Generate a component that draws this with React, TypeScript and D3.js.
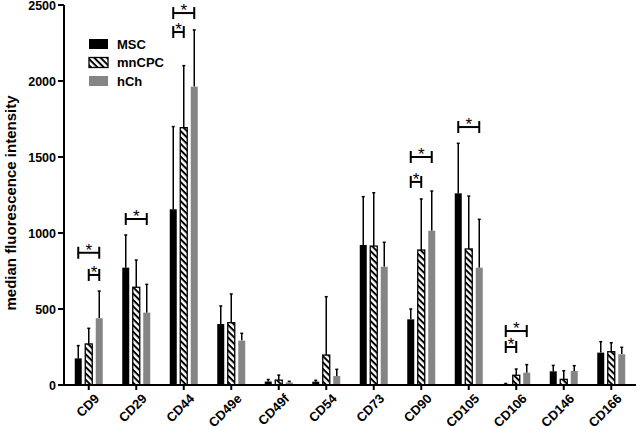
import React from "react";
import * as d3 from "d3";

const categories = ["CD9","CD29","CD44","CD49e","CD49f","CD54","CD73","CD90","CD105","CD106","CD146","CD166"];
const seriesNames = ["MSC","mnCPC","hCh"];
const mscValues = [175, 772, 1156, 401, 23, 22, 921, 432, 1261, 7, 90, 213];
const mscErrors = [259, 987, 1700, 520, 36, 31, 1239, 500, 1590, 10, 129, 285];
const mnCPCValues = [270, 643, 1693, 410, 32, 197, 914, 888, 895, 64, 37, 219];
const mnCPCErrors = [373, 822, 2101, 599, 65, 581, 1265, 1224, 1243, 105, 94, 278];
const hChValues = [439, 476, 1963, 292, 17, 59, 778, 1015, 772, 81, 92, 202];
const hChErrors = [618, 662, 2336, 340, 24, 103, 939, 1276, 1090, 134, 127, 248];
const yTicks = [0, 500, 1000, 1500, 2000, 2500];
// significance brackets: category, from series, to series, level (data units)
const sigCats = ["CD9","CD9","CD29","CD44","CD44","CD90","CD90","CD105","CD106","CD106"];
const sigFrom = ["MSC","mnCPC","MSC","MSC","MSC","MSC","MSC","MSC","MSC","MSC"];
const sigTo = ["hCh","hCh","hCh","hCh","mnCPC","hCh","mnCPC","hCh","hCh","mnCPC"];
const sigLevels = [870, 724, 1092, 2447, 2322, 1500, 1336, 1697, 355, 250];

const FONT = "'Liberation Sans', Arial, sans-serif";
const GRAY = "#858585";

export default function App() {
  const x = d3.scaleBand<string>().domain(categories).range([65, 635]).padding(0);
  const xs = d3.scaleBand<string>().domain(seriesNames).range([-15.75, 15.75]).paddingInner(1 / 3).paddingOuter(1 / 6);
  const y = d3.scaleLinear().domain([0, 2500]).range([385, 5]);
  const bw = xs.bandwidth();
  const vals = [mscValues, mnCPCValues, hChValues];
  const errs = [mscErrors, mnCPCErrors, hChErrors];
  const center = (c: string) => (x(c) as number) + x.bandwidth() / 2;
  const sCenter = (c: string, s: string) => center(c) + (xs(s) as number) + bw / 2;

  return (
    <svg width={638} height={430} style={{ position: "absolute", left: 0, top: 0, background: "#fff" }}>
      <defs>
        <pattern id="hatch" patternUnits="userSpaceOnUse" width="4.5" height="4.5" patternTransform="rotate(45)">
          <rect width="4.5" height="4.5" fill="#fff" />
          <rect width="4.5" height="2" fill="#000" />
        </pattern>
      </defs>
      <rect width={638} height={430} fill="#fff" />
      {/* bars */}
      {categories.map((c, i) => (
        <g key={c}>
          {seriesNames.map((s, k) => {
            const v = vals[k][i];
            const e = errs[k][i];
            const bx = center(c) + (xs(s) as number);
            const cx = bx + bw / 2;
            const top = y(v);
            const fill = k === 0 ? "#000" : k === 1 ? "url(#hatch)" : GRAY;
            return (
              <g key={s}>
                <line x1={cx} x2={cx} y1={top} y2={y(e)} stroke="#000" strokeWidth={1.5} />
                <line x1={cx - 1.5} x2={cx + 1.5} y1={y(e)} y2={y(e)} stroke="#000" strokeWidth={1.5} />
                <rect x={bx} y={top} width={bw} height={y(0) - top} fill={fill}
                  stroke={k === 1 ? "#000" : "none"} strokeWidth={k === 1 ? 1.3 : 0} />
              </g>
            );
          })}
        </g>
      ))}
      {/* significance brackets */}
      {sigCats.map((c, i) => {
        const x1 = sCenter(c, sigFrom[i]);
        const x2 = sCenter(c, sigTo[i]);
        const ly = y(sigLevels[i]);
        return (
          <g key={i} stroke="#000" strokeWidth={2}>
            <line x1={x1} x2={x2} y1={ly} y2={ly} />
            <line x1={x1} x2={x1} y1={ly - 6} y2={ly + 6} />
            <line x1={x2} x2={x2} y1={ly - 6} y2={ly + 6} />
            <text x={(x1 + x2) / 2} y={ly + 3} textAnchor="middle" fontFamily={FONT} fontSize={17} stroke="none" fill="#000">*</text>
          </g>
        );
      })}
      {/* axes */}
      <line x1={64} x2={64} y1={y(2500)} y2={y(0) + 1} stroke="#000" strokeWidth={2} />
      <line x1={63} x2={636} y1={y(0)} y2={y(0)} stroke="#000" strokeWidth={2} />
      {yTicks.map((t) => (
        <g key={t}>
          <line x1={58} x2={64} y1={y(t)} y2={y(t)} stroke="#000" strokeWidth={2} />
          <text x={56} y={y(t) + 4.5} textAnchor="end" fontFamily={FONT} fontWeight="bold" fontSize={12.5}>{t}</text>
        </g>
      ))}
      {categories.map((c) => (
        <line key={c} x1={center(c)} x2={center(c)} y1={y(0)} y2={y(0) + 5} stroke="#000" strokeWidth={2} />
      ))}
      {categories.map((c) => (
        <text key={"l" + c}
          style={{ transform: `translate(${center(c) + 5}px, ${y(0) + 8}px) rotate(-45deg)`, transformOrigin: "0px 0px" }}
          x={0} y={0}
          textAnchor="end" dy="0.7em"
          fontFamily={FONT} fontWeight="bold" fontSize={13}>{c}</text>
      ))}
      <text transform="matrix(0,-1,1,0,16,203)" textAnchor="middle" fontFamily={FONT} fontWeight="bold" fontSize={15}>
        median fluorescence intensity
      </text>
      {/* legend */}
      {seriesNames.map((s, k) => (
        <g key={s} transform={`translate(89,${39 + k * 18.5})`}>
          <rect x={0} y={0} width={19} height={10} fill={k === 0 ? "#000" : k === 1 ? "url(#hatch)" : GRAY}
            stroke={k === 1 ? "#000" : "none"} strokeWidth={1.3} />
          <text x={28} y={5} dy="0.36em" fontFamily={FONT} fontWeight="bold" fontSize={13}>{s}</text>
        </g>
      ))}
    </svg>
  );
}
